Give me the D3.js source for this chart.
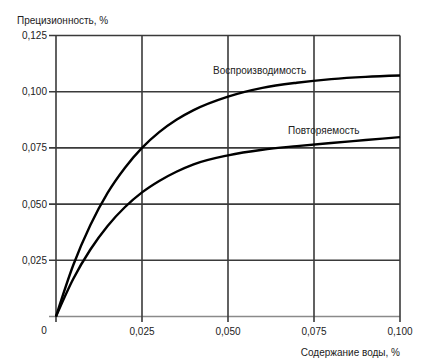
<!DOCTYPE html>
<html><head><meta charset="utf-8">
<script src="https://cdn.jsdelivr.net/npm/d3@7"></script>
<style>body{margin:0;background:#fff}svg{display:block}text{font-family:"Liberation Sans",Arial,sans-serif;fill:#222}</style>
</head><body>
<svg id="c" width="423" height="359"></svg>
<script>
const xValues = [0, 0.005, 0.01, 0.015, 0.02, 0.025, 0.03, 0.035, 0.04, 0.05, 0.06, 0.07, 0.08, 0.09, 0.1];
const reproducibility = [0, 0.0228, 0.0407, 0.055, 0.0661, 0.075, 0.082, 0.0875, 0.0918, 0.0978, 0.1017, 0.104, 0.1056, 0.1066, 0.1072];
const repeatability = [0, 0.0167, 0.0298, 0.0403, 0.0486, 0.0552, 0.0603, 0.0644, 0.0677, 0.0717, 0.0742, 0.0758, 0.0772, 0.0785, 0.0798];
const xTicks = [0.025, 0.05, 0.075, 0.1];
const yTicks = [0.025, 0.05, 0.075, 0.1, 0.125];
const seriesNames = ["Воспроизводимость", "Повторяемость"];
const yTitle = "Прецизионность, %";
const xTitle = "Содержание воды, %";

const svg = d3.select("#c");
const x = d3.scaleLinear().domain([0, 0.1]).range([56, 400]);
const y = d3.scaleLinear().domain([0, 0.125]).range([316.5, 35.5]);
const fmt = d => d3.format(".3f")(d).replace(".", ",");

// horizontal grid lines + y ticks
const gy = svg.append("g");
gy.selectAll("line").data(yTicks).join("line")
  .attr("x1", 49).attr("x2", x(0.1)).attr("y1", d => y(d)).attr("y2", d => y(d))
  .attr("stroke", "#3a3a3a").attr("stroke-width", 1.6);
gy.selectAll("text").data(yTicks).join("text")
  .attr("x", 47).attr("y", d => y(d)).attr("dy", "0.35em")
  .attr("text-anchor", "end").attr("font-size", 10).text(fmt);

// bottom axis (lighter)
svg.append("line").attr("x1", 49).attr("x2", x(0.1)).attr("y1", y(0)).attr("y2", y(0))
  .attr("stroke", "#8a8a8a").attr("stroke-width", 1.4);

// vertical lines
const gx = svg.append("g");
gx.selectAll("line").data([0].concat(xTicks)).join("line")
  .attr("x1", d => x(d)).attr("x2", d => x(d)).attr("y1", y(0.125)).attr("y2", 322)
  .attr("stroke", "#3a3a3a").attr("stroke-width", 1.6);
gx.selectAll("text").data(xTicks).join("text")
  .attr("x", d => x(d)).attr("y", 335).attr("text-anchor", "middle")
  .attr("font-size", 10).text(fmt);
svg.append("text").attr("x", 44).attr("y", 334).attr("text-anchor", "middle")
  .attr("font-size", 10).text("0");

// curves
const line = d3.line().x((d, i) => x(xValues[i])).y(d => y(d)).curve(d3.curveMonotoneX);
[reproducibility, repeatability].forEach(s => {
  svg.append("path").attr("d", line(s)).attr("fill", "none")
    .attr("stroke", "#000").attr("stroke-width", 2.4);
});

// labels
svg.append("text").attr("x", 213).attr("y", 74).attr("font-size", 10).text(seriesNames[0]);
svg.append("text").attr("x", 288).attr("y", 134).attr("font-size", 10).text(seriesNames[1]);
svg.append("text").attr("x", 17).attr("y", 24).attr("font-size", 10).text(yTitle);
svg.append("text").attr("x", 400).attr("y", 356).attr("text-anchor", "end").attr("font-size", 10).text(xTitle);
</script>
</body></html>
